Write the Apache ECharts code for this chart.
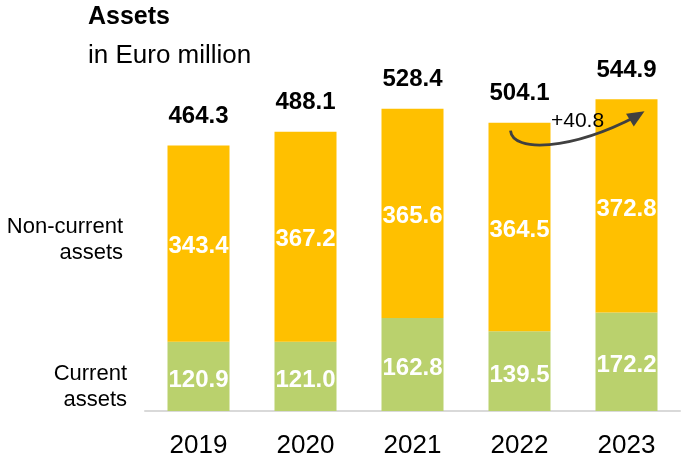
<!DOCTYPE html>
<html>
<head>
<meta charset="utf-8">
<script src="https://cdn.jsdelivr.net/npm/echarts@6/dist/echarts.min.js"></script>
<style>
  html, body { margin: 0; padding: 0; background: #fff; }
  #chart { width: 683px; height: 459px; }
</style>
</head>
<body>
<div id="chart"></div>
<script>
// Balance sheet assets, in EUR million
const years = ['2019', '2020', '2021', '2022', '2023'];
const currentAssets = [120.9, 121.0, 162.8, 139.5, 172.2];
const nonCurrentAssets = [343.4, 367.2, 365.6, 364.5, 372.8];
const totalAssets = [464.3, 488.1, 528.4, 504.1, 544.9];

const FONT = '"Liberation Sans", Arial, sans-serif';
const GREEN = '#BAD16D';
const YELLOW = '#FFC000';

const chart = echarts.init(document.getElementById('chart'), null, { renderer: 'canvas' });

function barLabel(offsetY) {
  return {
    show: true,
    position: 'inside',
    offset: [0, offsetY],
    color: '#fff',
    fontFamily: FONT,
    fontWeight: 'bold',
    fontSize: 24,
    formatter: p => p.value.toFixed(1)
  };
}

chart.setOption({
  animation: false,
  title: [
    { text: 'Assets', left: 83, top: 0,
      textStyle: { fontFamily: FONT, fontWeight: 'bold', fontSize: 25, color: '#000' } },
    { text: 'in Euro million', left: 83, top: 38,
      textStyle: { fontFamily: FONT, fontWeight: 'normal', fontSize: 26, color: '#000' } }
  ],
  grid: { left: 145, right: 3, top: 67.8, bottom: 46.5, containLabel: false },
  xAxis: {
    type: 'category',
    data: years,
    axisLine: { lineStyle: { color: '#D9D9D9', width: 2 } },
    axisTick: { show: false },
    axisLabel: { color: '#000', fontFamily: FONT, fontSize: 26, margin: 22 }
  },
  yAxis: {
    type: 'value', min: 0, max: 600,
    show: false, splitLine: { show: false }
  },
  series: [
    {
      name: 'Current assets', type: 'bar', stack: 'assets', barWidth: 62,
      itemStyle: { color: GREEN },
      label: barLabel(4),
      data: currentAssets
    },
    {
      name: 'Non-current assets', type: 'bar', stack: 'assets', barWidth: 62,
      itemStyle: { color: YELLOW },
      label: barLabel(3),
      data: nonCurrentAssets
    },
    {
      name: 'Total', type: 'scatter', symbolSize: 0,
      itemStyle: { color: 'transparent', opacity: 1 },
      label: {
        show: true, position: 'top', distance: 17,
        color: '#000', fontFamily: FONT, fontWeight: 'bold', fontSize: 24,
        formatter: p => p.value[1].toFixed(1)
      },
      data: years.map((y, i) => [y, totalAssets[i]])
    }
  ]
});

// Side captions and the year-over-year change arrow
function drawOverlay() {
  const p22 = chart.convertToPixel({ gridIndex: 0 }, [years[3], totalAssets[3]]);
  const p23 = chart.convertToPixel({ gridIndex: 0 }, [years[4], totalAssets[4]]);
  const sx = p22[0] - 9, sy = p22[1] + 8;
  const tip = [p23[0] + 18, p23[1] + 12];
  const ex = tip[0] - 10, ey = tip[1] + 6;
  const len = Math.hypot(tip[0] - ex, tip[1] - ey);
  const dx = (tip[0] - ex) / len, dy = (tip[1] - ey) / len;
  const hl = 17, hw = 7.5;
  const bx = tip[0] - dx * hl, by = tip[1] - dy * hl;
  const change = (totalAssets[4] - totalAssets[3]).toFixed(1);

  const captionStyle = { fontFamily: FONT, fontSize: 22, fill: '#000', align: 'right', verticalAlign: 'top', lineHeight: 26 };

  chart.setOption({
    graphic: [
      { type: 'text', x: 123, y: 214, z: 100,
        style: Object.assign({ text: 'Non-current\nassets' }, captionStyle) },
      { type: 'text', x: 127, y: 361, z: 100,
        style: Object.assign({ text: 'Current\nassets' }, captionStyle) },
      { type: 'bezierCurve', z: 100,
        shape: { x1: sx, y1: sy, cpx1: sx + 2, cpy1: sy + 22, cpx2: sx + 60, cpy2: sy + 20, x2: ex + 2, y2: ey - 1 },
        style: { stroke: '#404040', lineWidth: 2.8, fill: null } },
      { type: 'polygon', z: 100,
        shape: { points: [tip, [bx - dy * hw, by + dx * hw], [bx + dy * hw, by - dx * hw]] },
        style: { fill: '#404040' } },
      { type: 'text', x: 551, y: 111, z: 100,
        style: { text: '+' + change, fontFamily: FONT, fontSize: 21, fill: '#000', verticalAlign: 'top' } }
    ]
  });
}
drawOverlay();
</script>
</body>
</html>
